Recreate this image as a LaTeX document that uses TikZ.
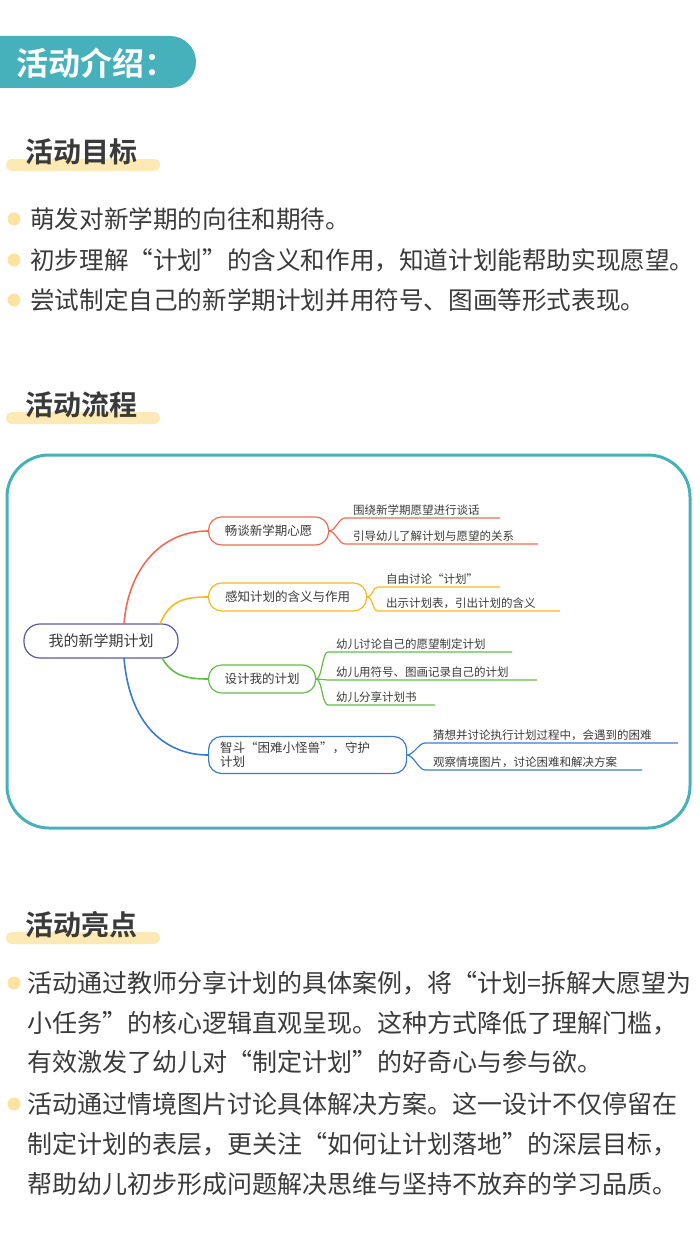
\documentclass[tikz,border=0pt]{standalone}
\usepackage{fontspec}
\setmainfont{Noto Sans CJK SC}
\newfontfamily\cjkb{Noto Sans CJK SC Bold}
\usetikzlibrary{calc}
\definecolor{teal}{HTML}{46B1BA}
\definecolor{txt}{HTML}{3A3A3A}
\definecolor{hl}{HTML}{FDE9B4}
\definecolor{bul}{HTML}{FDE3A0}
\definecolor{cr}{HTML}{F26A55}
\definecolor{co}{HTML}{F8B820}
\definecolor{cg}{HTML}{62BE45}
\definecolor{cb}{HTML}{3A7BD0}
\begin{document}
\begin{tikzpicture}[x=1pt,y=-1pt,
  body/.style={anchor=west,inner sep=0,font=\fontsize{24.6}{24.6}\selectfont,text=txt},
  bodyb/.style={anchor=west,inner sep=0,font=\fontsize{25}{25}\selectfont,text=txt},
  dot/.style={circle,fill=bul,inner sep=0,minimum size=13},
  head/.style={anchor=west,inner sep=0,font=\cjkb\fontsize{28}{28}\selectfont,text=txt},
  br/.style={draw,rounded corners=13,minimum height=28,anchor=west,inner sep=5,font=\fontsize{12.5}{14}\selectfont,text=txt,line width=1.2},
  lf/.style={anchor=south west,inner sep=2,xshift=6,font=\fontsize{11.5}{12}\selectfont,text=txt},
  ln/.style={line width=1.6}]
\useasboundingbox (0,0) rectangle (700,1236);
% top pill
\fill[teal,rounded corners=26] (-40,36) rectangle (196,88);
\node[anchor=west,inner sep=0,font=\cjkb\fontsize{32}{32}\selectfont,text=white] (title) at (16,63) {活动介绍：};
% section heads
\foreach \y/\t/\n in {152/活动目标/h1,405/活动流程/h2,925/活动亮点/h3}{
  \fill[hl,rounded corners=6] (6,\y+7) rectangle (160,\y+19);
  \node[head] (\n) at (25,\y) {\t};
}
% goals
\node[dot] (d1) at (14,219) {}; \node[body] (g1) at (30,219) {萌发对新学期的向往和期待。};
\node[dot] (d2) at (14,260) {}; \node[body] (g2) at (30,260) {初步理解“计划”的含义和作用，知道计划能帮助实现愿望。};
\node[dot] (d3) at (14,300) {}; \node[body] (g3) at (30,300) {尝试制定自己的新学期计划并用符号、图画等形式表现。};
% frame
\draw[teal,line width=3,rounded corners=42] (7,455) rectangle (690,828);
% mind map
\node[draw=gray!70!blue,line width=1.2,rounded corners=16,minimum width=154,minimum height=34,font=\fontsize{15}{15}\selectfont,text=txt] (root) at (101,641) {我的新学期计划};
\node[br,draw=cr,minimum width=120] (b1) at (208,531) {畅谈新学期心愿};
\node[br,draw=co,minimum width=158] (b2) at (208,597) {感知计划的含义与作用};
\node[br,draw=cg,minimum width=107] (b3) at (208,679) {设计我的计划};
\node[br,draw=cb,minimum width=198,minimum height=37,align=left,text width=175] (b4) at (208,755) {智斗“困难小怪兽”，守护\\计划};
\coordinate (r1) at (124,624); \coordinate (r2) at (160,624);
\coordinate (r3) at (162,658); \coordinate (r4) at (124,658);
\draw[cr,ln] (r1) .. controls (128,570) and (160,531) .. (b1.west);
\draw[co,ln] (r2) .. controls (170,600) and (185,597) .. (b2.west);
\draw[cg,ln] (r3) .. controls (172,675) and (185,679) .. (b3.west);
\draw[cb,ln] (r4) .. controls (130,730) and (170,755) .. (b4.west);
% leaves
\newcommand\leaf[7]{%
  \coordinate (#7s) at (#3,#4); \coordinate (#7e) at (#5,#4);
  \draw[#1,line width=1.2] (#2.east) .. controls ($(#2.east)+(6,0)$) and ($(#7s)+(-6,0)$) .. (#7s) -- (#7e);
  \node[lf] (#7) at (#7s) {#6};}
\leaf{cr}{b1}{345}{518}{500}{围绕新学期愿望进行谈话}{l11}
\leaf{cr}{b1}{345}{544}{538}{引导幼儿了解计划与愿望的关系}{l12}
\leaf{co}{b2}{378}{587}{500}{自由讨论“计划”}{l21}
\leaf{co}{b2}{378}{611}{560}{出示计划表，引出计划的含义}{l22}
\leaf{cg}{b3}{328}{652}{512}{幼儿讨论自己的愿望制定计划}{l31}
\leaf{cg}{b3}{328}{680}{537}{幼儿用符号、图画记录自己的计划}{l32}
\leaf{cg}{b3}{328}{705}{435}{幼儿分享计划书}{l33}
\leaf{cb}{b4}{425}{743}{678}{猜想并讨论执行计划过程中，会遇到的困难}{l41}
\leaf{cb}{b4}{425}{770}{642}{观察情境图片，讨论困难和解决方案}{l42}
% highlights
\node[dot] (e1) at (14,983) {};
\node[bodyb] (p1) at (27,983) {活动通过教师分享计划的具体案例，将“计划=拆解大愿望为};
\node[bodyb] (p2) at (27,1023) {小任务”的核心逻辑直观呈现。这种方式降低了理解门槛，};
\node[bodyb] (p3) at (27,1062) {有效激发了幼儿对“制定计划”的好奇心与参与欲。};
\node[dot] (e2) at (14,1104) {};
\node[bodyb] (p4) at (27,1104) {活动通过情境图片讨论具体解决方案。这一设计不仅停留在};
\node[bodyb] (p5) at (27,1144) {制定计划的表层，更关注“如何让计划落地”的深层目标，};
\node[bodyb] (p6) at (27,1184) {帮助幼儿初步形成问题解决思维与坚持不放弃的学习品质。};
\end{tikzpicture}
\end{document}
